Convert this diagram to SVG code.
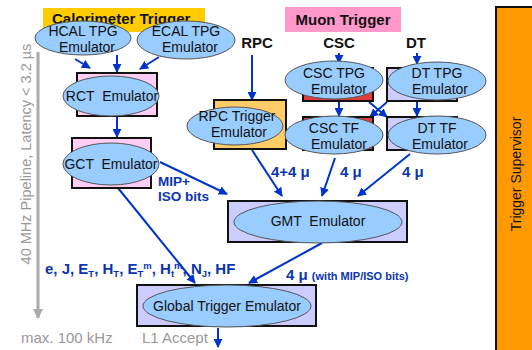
<svg xmlns="http://www.w3.org/2000/svg" width="532" height="350" viewBox="0 0 532 350">
<defs>
<marker id="ah" viewBox="0 0 10 10" refX="9" refY="5" markerWidth="9" markerHeight="9" markerUnits="userSpaceOnUse" orient="auto"><path d="M0,0 L10,5 L0,10 z" fill="#0033CC"/></marker>
<marker id="ag" viewBox="0 0 10 10" refX="9" refY="5" markerWidth="10" markerHeight="10" markerUnits="userSpaceOnUse" orient="auto"><path d="M0,0 L10,5 L0,10 z" fill="#AAAAAA"/></marker>
<style>
.el{fill:#99CCFF;stroke:#555;stroke-width:1}
.bx{stroke:#111;stroke-width:2}
.pink{fill:#FFCCF2}
.lav{fill:#CCCCFF}
.red{fill:#E23C3C}
.org{fill:#FFCC66}
.t{font-family:"Liberation Sans",Arial,sans-serif;font-size:14px;fill:#111;text-anchor:middle}
.b{font-family:"Liberation Sans",Arial,sans-serif;font-weight:bold;fill:#111}
.bl{font-family:"Liberation Sans",Arial,sans-serif;font-weight:bold;fill:#0A34B0}
.g{font-family:"Liberation Sans",Arial,sans-serif;fill:#999;font-size:15px}
.ar{stroke:#0033CC;stroke-width:2;fill:none;marker-end:url(#ah)}
</style>
</defs>

<g id="supervisor">
<rect x="496" y="7" width="40" height="346" fill="#FF9900" stroke="#111" stroke-width="2"/>
<text class="t" transform="translate(521,174) rotate(-90)" style="font-size:14px">Trigger Supervisor</text>
</g>

<g id="axis">
<line x1="38" y1="52" x2="38" y2="318" stroke="#AAAAAA" stroke-width="3" marker-end="url(#ag)"/>
<text class="g" transform="translate(31,154) rotate(-90)" text-anchor="middle" style="font-size:14.5px">40 MHz Pipeline,  Latency &lt; 3.2 µs</text>
<text class="g" x="21" y="343">max. 100 kHz</text>
</g>

<g id="calo-label">
<rect x="43" y="8" width="162" height="24" fill="#FFCC00"/>
<text class="b" x="52" y="24" style="font-size:15px">Calorimeter Trigger</text>
</g>

<g id="muon-label">
<rect x="285" y="7" width="116" height="25" fill="#FF99CC"/>
<text class="b" x="343" y="25" text-anchor="middle" style="font-size:15px">Muon Trigger</text>
</g>
<text class="b" x="257" y="48" text-anchor="middle" style="font-size:15px">RPC</text>
<text class="b" x="339" y="48" text-anchor="middle" style="font-size:15px">CSC</text>
<text class="b" x="416" y="48" text-anchor="middle" style="font-size:15px">DT</text>

<g id="connectors">
<line class="ar" x1="75" y1="59" x2="90" y2="68"/>
<line class="ar" x1="117" y1="55" x2="117" y2="72"/>
<line class="ar" x1="159" y1="57" x2="140" y2="69"/>
<line class="ar" x1="117" y1="117" x2="117" y2="137"/>
<line class="ar" x1="160" y1="162" x2="227" y2="194"/>
<line class="ar" x1="118" y1="188" x2="195" y2="283"/>
<line class="ar" x1="252" y1="55" x2="252" y2="100"/>
<line class="ar" x1="339" y1="53" x2="339" y2="63"/>
<line class="ar" x1="417" y1="53" x2="417" y2="64"/>
<line class="ar" x1="339" y1="100" x2="339" y2="116"/>
<line class="ar" x1="417" y1="100" x2="417" y2="116"/>
<line class="ar" x1="369" y1="102" x2="387" y2="117"/>
<line class="ar" x1="387" y1="102" x2="370" y2="117"/>
<line class="ar" x1="252" y1="150" x2="282" y2="196"/>
<line class="ar" x1="335" y1="158" x2="322" y2="196"/>
<line class="ar" x1="410" y1="154" x2="358" y2="196"/>
<line class="ar" x1="322" y1="243" x2="249" y2="283"/>
<line class="ar" x1="218" y1="328" x2="218" y2="347"/>
</g>

<g id="hcal"><ellipse class="el" cx="83" cy="38" rx="48" ry="17"/><text class="t" x="83" y="36">HCAL TPG</text><text class="t" x="87" y="52">Emulator</text></g>
<g id="ecal"><ellipse class="el" cx="186" cy="40" rx="49" ry="19"/><text class="t" x="186" y="36">ECAL TPG</text><text class="t" x="190" y="52">Emulator</text></g>

<g id="rct"><rect class="bx pink" x="77" y="73" width="80" height="43"/><ellipse class="el" cx="111" cy="96" rx="48" ry="20"/><text class="t" x="112" y="101" xml:space="preserve">RCT  Emulator</text></g>
<g id="gct"><rect class="bx pink" x="72" y="138" width="79" height="50"/><ellipse class="el" cx="111" cy="164" rx="48" ry="21"/><text class="t" x="111" y="169" xml:space="preserve">GCT  Emulator</text></g>

<g id="rpc"><rect class="bx org" x="214" y="100" width="72" height="49"/><ellipse class="el" cx="235" cy="126" rx="48" ry="19"/><text class="t" x="237" y="121">RPC Trigger</text><text class="t" x="239" y="137">Emulator</text></g>

<g id="csctpg"><rect class="bx red" x="303" y="68" width="70" height="33"/><ellipse class="el" cx="334" cy="80" rx="49" ry="19"/><text class="t" x="334" y="78">CSC TPG</text><text class="t" x="339" y="94">Emulator</text></g>
<g id="dttpg"><rect class="bx lav" x="387" y="68" width="70" height="33"/><ellipse class="el" cx="437" cy="81" rx="49" ry="19"/><text class="t" x="437" y="78">DT TPG</text><text class="t" x="440" y="94">Emulator</text></g>
<g id="csctf"><rect class="bx red" x="303" y="117" width="70" height="33"/><ellipse class="el" cx="334" cy="135" rx="49" ry="19"/><text class="t" x="334" y="133">CSC TF</text><text class="t" x="339" y="149">Emulator</text></g>
<g id="dttf"><rect class="bx lav" x="387" y="117" width="70" height="33"/><ellipse class="el" cx="437" cy="135" rx="49" ry="19"/><text class="t" x="437" y="133">DT TF</text><text class="t" x="440" y="149">Emulator</text></g>

<g id="gmt"><rect class="bx lav" x="228" y="201" width="179" height="41"/><ellipse class="el" cx="318" cy="222" rx="84" ry="21"/><text class="t" x="318" y="226" xml:space="preserve">GMT  Emulator</text></g>
<g id="gt"><rect class="bx lav" x="137" y="285" width="179" height="41"/><ellipse class="el" cx="227" cy="306" rx="84" ry="21"/><text class="t" x="227" y="311">Global Trigger Emulator</text></g>

<g id="labels">
<text class="bl" x="158" y="186" style="font-size:13.5px">MIP+</text>
<text class="bl" x="158" y="201" style="font-size:13.5px">ISO bits</text>
<text class="bl" x="271" y="177" style="font-size:15px">4+4 μ</text>
<text class="bl" x="340" y="177" style="font-size:15px">4 μ</text>
<text class="bl" x="402" y="177" style="font-size:15px">4 μ</text>
<text class="bl" x="286" y="280" style="font-size:15px">4 μ <tspan style="font-size:11px">(with MIP/ISO bits)</tspan></text>
<text class="bl" x="45" y="274" style="font-size:15px">e, J, E<tspan dy="3" style="font-size:9.5px">T</tspan><tspan dy="-3">, H</tspan><tspan dy="3" style="font-size:9.5px">T</tspan><tspan dy="-3">, E</tspan><tspan dy="3" style="font-size:9.5px">T</tspan><tspan dy="-8" style="font-size:9.5px">m</tspan><tspan dy="5">, H</tspan><tspan dy="3" style="font-size:9.5px">t</tspan><tspan dy="-8" style="font-size:9.5px">m</tspan><tspan dy="5">, N</tspan><tspan dy="3" style="font-size:9.5px">J</tspan><tspan dy="-3">, HF</tspan></text>
<text class="g" x="142" y="343">L1 Accept</text>
</g>
</svg>
